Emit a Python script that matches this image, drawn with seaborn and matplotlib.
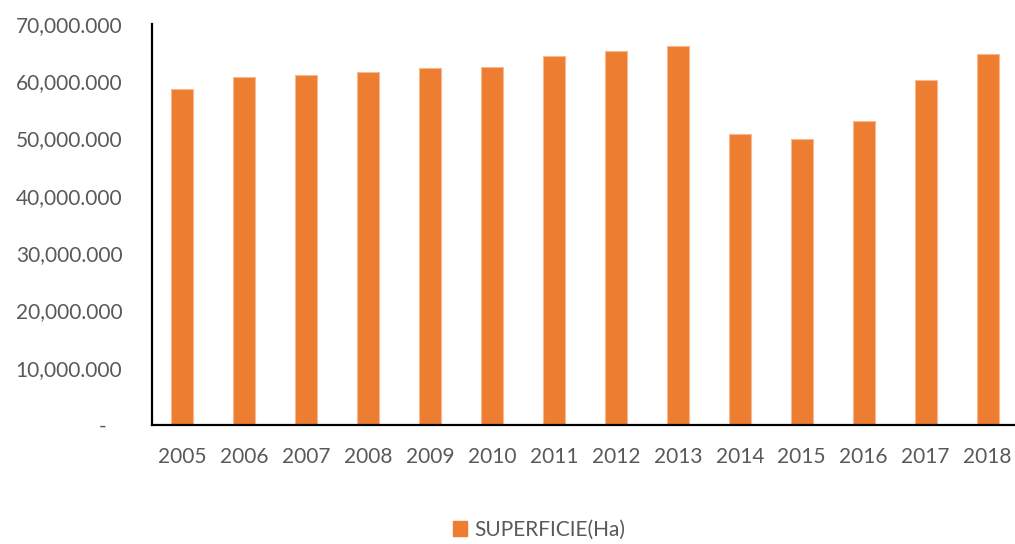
import matplotlib
matplotlib.use("Agg")
import matplotlib.pyplot as plt
import seaborn as sns
import pandas as pd
from matplotlib.patches import Patch

years = ["2005", "2006", "2007", "2008", "2009", "2010", "2011",
         "2012", "2013", "2014", "2015", "2016", "2017", "2018"]
superficie = [58600, 60780, 61130, 61550, 62360, 62420, 64350,
              65280, 66150, 50870, 49880, 53030, 60150, 64750]
y_ticks = [0, 10000, 20000, 30000, 40000, 50000, 60000, 70000]
y_tick_labels = ["-   ", "10,000.000", "20,000.000", "30,000.000",
                 "40,000.000", "50,000.000", "60,000.000", "70,000.000"]
series_name = "SUPERFICIE(Ha)"

sns.set_theme(style="white")
plt.rcParams["font.family"] = ["Lato", "DejaVu Sans"]

W, H = 1015, 544
fig = plt.figure(figsize=(W / 100, H / 100), dpi=100)
ax = fig.add_axes([151.5 / W, (H - 425) / H, (1018.5 - 151.5) / W, (425 - 24) / H])

df = pd.DataFrame({"year": years, "value": superficie})
orange = "#ED7D31"
sns.barplot(data=df, x="year", y="value", color=orange, width=0.355,
            saturation=1, edgecolor="#F6B98E", linewidth=0.8, ax=ax)

ax.set_xlim(-0.5, len(years) - 0.5)
ax.set_ylim(0, 70000)
ax.set_yticks(y_ticks)
ax.set_yticklabels(y_tick_labels)
ax.set_xlabel("")
ax.set_ylabel("")
ax.tick_params(axis="y", length=0, pad=21, labelsize=15, labelcolor="#595959")
ax.tick_params(axis="x", length=0, pad=16, labelsize=15, labelcolor="#595959")

for s in ["top", "right"]:
    ax.spines[s].set_visible(False)
for s in ["left", "bottom"]:
    ax.spines[s].set_color("black")
    ax.spines[s].set_linewidth(1.6)

handles = [Patch(facecolor=orange, edgecolor=orange, label=series_name)]
fig.legend(handles=handles, loc="center", bbox_to_anchor=(539 / W, 1 - 530 / H),
           frameon=False, fontsize=15, labelcolor="#595959",
           handlelength=0.7, handleheight=0.7, handletextpad=0.35)

fig.savefig("out.png", dpi=100)
